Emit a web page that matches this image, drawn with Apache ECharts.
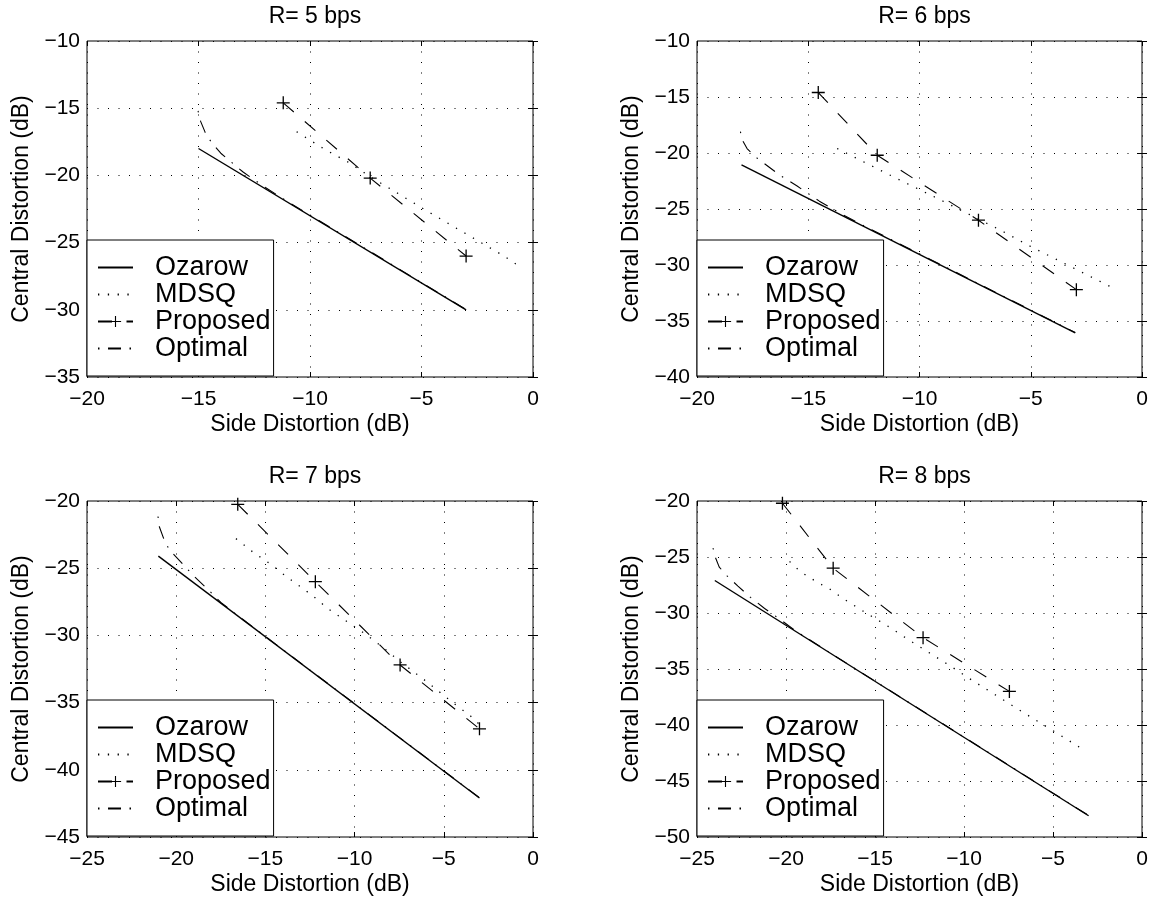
<!DOCTYPE html>
<html>
<head>
<meta charset="utf-8">
<script src="https://cdn.jsdelivr.net/npm/echarts@6/dist/echarts.min.js"></script>
<style>
  html, body { margin: 0; padding: 0; background: #fff; }
  #chart { width: 1156px; height: 897px; }
</style>
</head>
<body>
<div id="chart"></div>
<script>
// ---------------- data ----------------
const titles = ['R= 5 bps', 'R= 6 bps', 'R= 7 bps', 'R= 8 bps'];
const seriesNames = ['Ozarow', 'MDSQ', 'Proposed', 'Optimal'];
const xAxisName = 'Side Distortion (dB)';
const yAxisName = 'Central Distortion (dB)';

const xMin = [-20, -20, -25, -25];
const xMax = [0, 0, 0, 0];
const yMin = [-35, -40, -45, -50];
const yMax = [-10, -10, -20, -20];
const tickStep = 5;

// R = 5 bps
const ozarow5 = [[-15, -18], [-3, -30]];
const mdsq5 = [[-10.6, -16.75], [-9.4, -18.0], [-8.2, -19.1], [-7.3, -20.1], [-5.8, -21.6], [-4.6, -22.8], [-3.0, -24.35], [-1.3, -26.0], [-0.5, -26.9]];
const proposed5 = [[-11.2, -14.6], [-7.3, -20.2], [-3.0, -26.0]];
const optimal5 = [[-15.02, -15.2], [-14.9, -16.0], [-14.7, -16.8], [-14.4, -17.6], [-14.0, -18.35], [-13.5, -19.05], [-13.0, -19.75], [-12.0, -20.9], [-11.0, -21.95], [-3.0, -29.98]];

// R = 6 bps
const ozarow6 = [[-18, -21.05], [-3, -36.05]];
const mdsq6 = [[-13.7, -19.6], [-12.8, -20.5], [-11.0, -22.3], [-9.4, -23.85], [-8.0, -25.25], [-6.4, -26.85], [-5.0, -28.35], [-3.5, -29.85], [-2.6, -30.75], [-1.35, -32.0]];
const proposed6 = [[-14.55, -14.6], [-11.9, -20.2], [-7.35, -26.0], [-2.95, -32.2]];
const optimal6 = [[-18.05, -18.1], [-17.95, -18.9], [-17.75, -19.6], [-17.4, -20.3], [-17.0, -20.9], [-16.3, -21.95], [-15.5, -22.95], [-14.5, -24.3], [-13.5, -25.45], [-12.5, -26.5], [-3.0, -36.03]];

// R = 7 bps
const ozarow7 = [[-21, -24.1], [-3, -42.1]];
const mdsq7 = [[-16.65, -22.8], [-15.7, -23.8], [-14.7, -24.7], [-13.8, -25.65], [-12.4, -27.0], [-11.5, -28.0], [-10.5, -28.9], [-9.5, -29.8], [-8.5, -30.8], [-7.4, -32.0], [-6.0, -33.4], [-4.4, -35.1], [-3.5, -36.0], [-2.9, -36.75]];
const proposed7 = [[-16.55, -20.25], [-12.2, -26.0], [-7.45, -32.2], [-3.0, -36.95]];
const optimal7 = [[-21.02, -21.15], [-20.95, -21.9], [-20.7, -22.8], [-20.4, -23.6], [-19.8, -24.45], [-19.0, -25.6], [-18.2, -26.6], [-17.5, -27.55], [-16.0, -29.08], [-3.0, -42.08]];

// R = 8 bps
const ozarow8 = [[-24, -27.1], [-3, -48.1]];
const mdsq8 = [[-19.8, -25.4], [-19.2, -26.3], [-18.2, -27.3], [-17.6, -27.8], [-16.7, -28.8], [-15.7, -29.8], [-14.2, -31.25], [-13.2, -32.3], [-11.7, -33.8], [-10.7, -34.8], [-9.7, -35.85], [-8.2, -37.35], [-6.7, -38.85], [-4.7, -40.8], [-3.2, -42.3]];
const proposed8 = [[-20.2, -20.2], [-17.35, -26.0], [-12.3, -32.2], [-7.45, -37.0]];
const optimal8 = [[-24.1, -24.2], [-24.0, -24.9], [-23.75, -25.9], [-23.3, -26.7], [-22.7, -27.6], [-22.0, -28.6], [-21.2, -29.6], [-20.3, -30.6], [-19.5, -31.55], [-18.0, -33.08], [-3.0, -48.08]];

const panelData = [
  [ozarow5, mdsq5, proposed5, optimal5],
  [ozarow6, mdsq6, proposed6, optimal6],
  [ozarow7, mdsq7, proposed7, optimal7],
  [ozarow8, mdsq8, proposed8, optimal8]
];

// ---------------- styles / layout ----------------
const FONT = '"Liberation Sans", Arial, Helvetica, sans-serif';
const grids = [
  { left: 87, top: 41, width: 446, height: 336 },
  { left: 697, top: 41, width: 445, height: 336 },
  { left: 87, top: 501, width: 446, height: 336 },
  { left: 697, top: 501, width: 445, height: 336 }
];
const PLUS = 'path://M9,0 L11,0 L11,20 L9,20 Z M0,9 L20,9 L20,11 L0,11 Z';
const lineStyles = [
  { color: '#000', width: 1.4, type: 'solid' },
  { color: '#000', width: 1.3, type: [1.3, 8.5] },
  { color: '#000', width: 1.1, type: [14, 14.5] },
  { color: '#000', width: 1.1, type: [1.5, 8.5, 13, 8.5] }
];
const fmt = v => String(v).replace('-', '\u2212');

const option = {
  animation: false,
  backgroundColor: '#fff',
  textStyle: { fontFamily: FONT },
  title: [], grid: [], xAxis: [], yAxis: [], series: [], legend: []
};

grids.forEach((g, i) => {
  option.grid.push(Object.assign({ show: true, borderColor: '#000', borderWidth: 1, backgroundColor: '#fff', containLabel: false }, g));
  option.title.push({
    text: titles[i], left: g.left + g.width / 2, top: g.top - 41, textAlign: 'center',
    textStyle: { fontFamily: FONT, fontSize: 23, fontWeight: 'normal', color: '#000' }
  });
  option.xAxis.push({
    type: 'value', gridIndex: i, position: 'bottom', min: xMin[i], max: xMax[i], interval: tickStep,
    name: xAxisName, nameLocation: 'middle', nameGap: 36,
    nameTextStyle: { fontFamily: FONT, fontSize: 23, color: '#000' },
    axisLine: { show: false },
    axisTick: { show: true, inside: true, length: 5, lineStyle: { color: '#000' } },
    axisLabel: { show: true, formatter: fmt, fontFamily: FONT, fontSize: 21, color: '#000', margin: 12 },
    splitLine: { show: true, lineStyle: { color: '#000', width: 1, type: [1, 9.5] } }
  });
  option.xAxis.push({
    type: 'value', gridIndex: i, position: 'top', min: xMin[i], max: xMax[i], interval: tickStep,
    axisLine: { show: false },
    axisTick: { show: true, inside: true, length: 5, lineStyle: { color: '#000' } },
    axisLabel: { show: false }, splitLine: { show: false }
  });
  option.yAxis.push({
    type: 'value', gridIndex: i, position: 'left', min: yMin[i], max: yMax[i], interval: tickStep,
    name: yAxisName, nameLocation: 'middle', nameGap: 54,
    nameTextStyle: { fontFamily: FONT, fontSize: 23, color: '#000' },
    axisLine: { show: false },
    axisTick: { show: true, inside: true, length: 5, lineStyle: { color: '#000' } },
    axisLabel: { show: true, formatter: fmt, fontFamily: FONT, fontSize: 21, color: '#000', margin: 7 },
    splitLine: { show: true, lineStyle: { color: '#000', width: 1, type: [1, 9.5] } }
  });
  option.yAxis.push({
    type: 'value', gridIndex: i, position: 'right', min: yMin[i], max: yMax[i], interval: tickStep,
    axisLine: { show: false },
    axisTick: { show: true, inside: true, length: 5, lineStyle: { color: '#000' } },
    axisLabel: { show: false }, splitLine: { show: false }
  });

  panelData[i].forEach((d, k) => {
    const isProp = k === 2;
    option.series.push({
      type: 'line', name: seriesNames[k], data: d,
      xAxisIndex: i * 2, yAxisIndex: i * 2,
      symbol: isProp ? PLUS : 'none', symbolSize: 13, showSymbol: isProp,
      itemStyle: { color: '#000' },
      lineStyle: lineStyles[k],
      silent: true, z: 3
    });
  });

  option.legend.push({
    data: seriesNames.map((n, k) => k === 2 ? { name: n } : { name: n, itemStyle: { opacity: 0 } }),
    orient: 'vertical',
    left: g.left, top: g.top + g.height - 137,
    padding: [14, 3, 14, 10], itemGap: 0, itemWidth: 35, itemHeight: 14,
    backgroundColor: '#fff', borderColor: '#000', borderWidth: 1, borderRadius: 0,
    textStyle: { fontFamily: FONT, fontSize: 27, color: '#000', lineHeight: 27, padding: [0, 0, 0, 17] },
    selectedMode: false, z: 10
  });
});

const chart = echarts.init(document.getElementById('chart'), null, { renderer: 'canvas' });
chart.setOption(option);
</script>
</body>
</html>
